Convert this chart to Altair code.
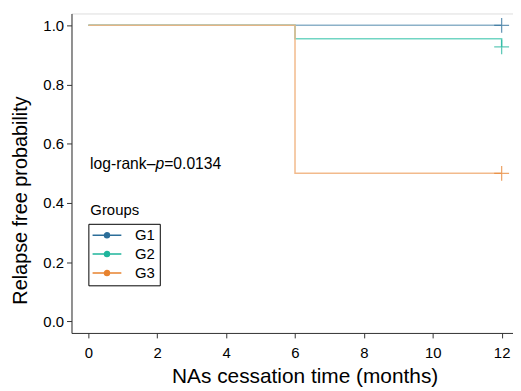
import altair as alt
import pandas as pd

# ---- data ----
groups = ["G1", "G2", "G3"]
step_times = {
    "G1": [0, 12],
    "G2": [0, 6, 12],
    "G3": [0, 6, 12],
}
step_surv = {
    "G1": [1.0, 1.0],
    "G2": [1.0, 0.955, 0.927],
    "G3": [1.0, 0.5, 0.5],
}
censor_time = [12, 12, 12]
censor_surv = [1.0, 0.927, 0.5]
colors = ["#2c6e99", "#1fb59c", "#e8832f"]        # legend / censor colours
line_colors = ["#7fa8c2", "#62d0bc", "#f1b27f"]   # lighter curve colours
x_ticks = [0, 2, 4, 6, 8, 10, 12]
y_ticks = [0.0, 0.2, 0.4, 0.6, 0.8, 1.0]
annot_parts = ["log-rank–", "p", "=0.0134"]

rows = []
for g in groups:
    for t, s in zip(step_times[g], step_surv[g]):
        rows.append({"group": g, "time": t, "surv": s})
steps = pd.DataFrame(rows)
cens = pd.DataFrame({"group": groups, "time": censor_time, "surv": censor_surv})
annot = pd.DataFrame({"time": [0.05], "surv": [0.514]})

FONT = "Liberation Sans"

xscale = alt.Scale(domain=[-0.49, 12.33], nice=False, zero=False)
yscale = alt.Scale(domain=[-0.039, 1.040], nice=False, zero=False)
cscale = alt.Scale(domain=groups, range=colors)

# legend symbol: a line with a filled dot in the middle (dot drawn as concentric circles)
cx = 1.45
def circ(r):
    return f"M{cx-r:.2f},0A{r},{r} 0 1,0 {cx+r:.2f},0A{r},{r} 0 1,0 {cx-r:.2f},0"
legend_path = f"M{cx-2.9:.2f},0L{cx+2.9:.2f},0" + circ(0.5) + circ(0.3) + circ(0.1)

xaxis = alt.Axis(values=x_ticks, title="NAs cessation time (months)", grid=False,
                 labelFontSize=15, titleFontSize=21, titleFontWeight="normal",
                 labelColor="black", titleColor="black", domainColor="#333333",
                 tickColor="#333333", tickSize=5, labelPadding=8, titleX=235,
                 titleY=33, titleFont=FONT, labelFont=FONT, labelFlush=False)
yaxis = alt.Axis(values=y_ticks, format=".1f", title="Relapse free probability", grid=False,
                 labelFontSize=15, titleFontSize=20, titleFontWeight="normal",
                 labelColor="black", titleColor="black", domainColor="#333333",
                 tickColor="#333333", tickSize=5, labelPadding=3, titleY=188,
                 titlePadding=12, titleFont=FONT, labelFont=FONT, labelFlush=False)

X = alt.X("time:Q", scale=xscale, axis=xaxis)
Y = alt.Y("surv:Q", scale=yscale, axis=yaxis)

line_layers = []
for i, g in enumerate(groups):
    line_layers.append(
        alt.Chart(steps).transform_filter(alt.datum.group == g)
        .mark_line(interpolate="step-after", strokeWidth=1.5, opacity=0.9, color=line_colors[i])
        .encode(x=X, y=Y)
    )

censor = alt.Chart(cens).mark_point(shape="M-1,0H1M0,-1V1", size=225, filled=False,
                                    strokeWidth=1.3, opacity=0.7).encode(
    x=X,
    y=Y,
    color=alt.Color("group:N", scale=cscale, legend=alt.Legend(
        title=None, orient="none", legendX=17, legendY=212, strokeColor="black",
        padding=4, symbolType=legend_path, symbolSize=100, symbolStrokeWidth=1.5,
        symbolOpacity=1, labelFontSize=15, labelFont=FONT, labelColor="black",
        labelOffset=28, rowPadding=3)),
)

FS = 15.8
t1 = alt.Chart(annot).mark_text(text=annot_parts[0], align="left", baseline="alphabetic",
                                fontSize=FS, font=FONT, color="black").encode(x=X, y=Y)
t2 = alt.Chart(annot).mark_text(text=annot_parts[1], align="left", baseline="alphabetic",
                                fontSize=FS, font=FONT, fontStyle="italic", color="black",
                                dx=65.9).encode(x=X, y=Y)
t3 = alt.Chart(annot).mark_text(text=annot_parts[2], align="left", baseline="alphabetic",
                                fontSize=FS, font=FONT, color="black", dx=74.7).encode(x=X, y=Y)

legend_title = alt.Chart(annot).mark_text(text="Groups", align="left", baseline="alphabetic",
                                          fontSize=15, font=FONT, color="black").encode(
    x=alt.value(19), y=alt.value(203))

chart = alt.layer(*line_layers, censor, t1, t2, t3, legend_title).properties(
    width=445, height=322,
    autosize=alt.AutoSizeParams(type="none"),
    padding={"left": 64, "top": 4, "right": 0, "bottom": 57},
).configure_view(strokeWidth=0).configure(background="white")

chart.save("out.html", embed_options={"renderer": "svg", "actions": False})
